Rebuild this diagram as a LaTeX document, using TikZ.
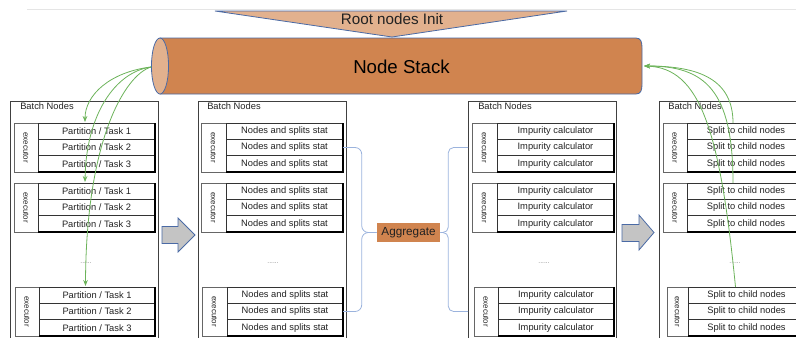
\documentclass[tikz,border=0pt]{standalone}
\usepackage{fontspec}
\usepackage{graphicx}
\setmainfont{Liberation Sans}
\usetikzlibrary{calc,arrows.meta}

\definecolor{stackbody}{HTML}{D0844F}
\definecolor{stackend}{HTML}{E2B18E}
\definecolor{edgeblue}{HTML}{4A6AA5}
\definecolor{linkgreen}{HTML}{6CB35A}
\definecolor{linkblue}{HTML}{9BB3DD}
\definecolor{arrowgray}{HTML}{C4C4C4}
\definecolor{textdark}{HTML}{222222}

% one executor with its three task rows
% #1 name, #2 left x, #3 executor right x, #4 rows right x, #5 top y,
% #6 row text (may use \rownum, the row's number)
\newcommand\execblock[6]{%
  \node[execcell, minimum width={(#3-#2)*0.75pt}] (#1e) at (#2,#5) {\rotatebox{-90}{executor}};
  \foreach \i in {0,1,2}{
    \pgfmathtruncatemacro\rownum{\i+1}
    \node[rowcell, minimum width={(#4-#3)*0.75pt}] (#1r\i) at (#3,{#5+\i*49/3}) {#6};
  }
  \draw[rowedge] (#1r0.north east) -- (#1r2.south east) -- (#1r2.south west);
}

\begin{document}
\begin{tikzpicture}[x=0.75pt,y=-0.75pt,
  colbox/.style={draw=black!75, line width=0.6pt, anchor=north west, inner sep=0pt, outer sep=0pt,
    minimum width=111pt, minimum height=183pt},
  collabel/.style={anchor=west, inner sep=0pt, text=textdark, font=\fontsize{7}{7}\selectfont},
  execcell/.style={draw=black!60, line width=0.5pt, anchor=north west, inner sep=0pt, outer sep=0pt,
    minimum height=36.75pt, text=textdark, font=\fontsize{6}{6}\selectfont},
  rowcell/.style={draw=black!80, line width=0.5pt, anchor=north west, inner sep=0pt, outer sep=0pt,
    minimum height=12.25pt, text=textdark, font=\fontsize{7}{7}\selectfont},
  rowedge/.style={draw=black, line width=1.2pt},
  dotsstyle/.style={text=black!50, font=\fontsize{5}{5}\selectfont, inner sep=0pt},
  greenlink/.style={draw=linkgreen, line width=0.6pt, -{Stealth[length=4.5pt,width=3.5pt]}},
  bluelink/.style={draw=linkblue, line width=0.6pt},
  blockarrow/.style={fill=arrowgray, draw=edgeblue, line width=0.6pt, line join=miter},
  aggbox/.style={fill=stackbody, inner sep=0pt, minimum width=47.25pt, minimum height=14.25pt,
    text=textdark, font=\fontsize{8.8}{8.8}\selectfont}
]
\useasboundingbox (0,0) rectangle (796,337);
\clip (0,0) rectangle (796,337);

% faint rule along the top
\draw[black!10, line width=0.5pt] (27,9) -- (796,9);

% inverted triangle feeding the stack
\filldraw[fill=stackend, draw=edgeblue, line width=0.6pt] (215,11) -- (567,11) -- (392,37) -- cycle;
\node[font=\fontsize{11.4}{11.4}\selectfont, text=textdark] (root) at (392,19) {Root nodes Init};

% the node stack cylinder
\filldraw[fill=stackbody, draw=edgeblue, line width=0.6pt]
  (160,38) -- (636,38) .. controls (641,38) and (642,42) .. (642,48) -- (642,84)
  .. controls (642,90) and (641,94) .. (636,94) -- (160,94) -- cycle;
\filldraw[fill=stackend, draw=edgeblue, line width=0.6pt] (160,66) ellipse [x radius=6.4pt, y radius=21pt];
\node[font=\fontsize{14}{14}\selectfont, text=black] (stack) at (401.5,66.5) {Node Stack};
\coordinate (stackL) at (151,67);
\coordinate (stackR) at (644,66);

% batch node columns
\node[colbox] (col1) at (10,101) {};
\node[colbox] (col2) at (198,101) {};
\node[colbox] (col3) at (468,101) {};
\node[colbox] (col4) at (659,101) {};
\node[collabel] (col1lbl) at (20,106) {Batch Nodes};
\node[collabel] (col2lbl) at (207,106) {Batch Nodes};
\node[collabel] (col3lbl) at (478,106) {Batch Nodes};
\node[collabel] (col4lbl) at (668,106) {Batch Nodes};

% executors
\execblock{c1g1}{14}{38}{155}{123}{Partition / Task \rownum}
\execblock{c1g2}{14}{38}{155}{183}{Partition / Task \rownum}
\execblock{c1g3}{15}{39}{155}{287}{Partition / Task \rownum}

\execblock{c2g1}{201}{226}{343}{123}{Nodes and splits stat}
\execblock{c2g2}{201}{226}{343}{183}{Nodes and splits stat}
\execblock{c2g3}{202}{227}{343}{287}{Nodes and splits stat}

\execblock{c3g1}{472}{497}{614}{123}{Impurity calculator}
\execblock{c3g2}{472}{497}{614}{183}{Impurity calculator}
\execblock{c3g3}{474}{498}{614}{287}{Impurity calculator}

\execblock{c4g1}{663}{687}{805}{123}{Split to child nodes}
\execblock{c4g2}{663}{687}{805}{183}{Split to child nodes}
\execblock{c4g3}{667}{688}{805}{287}{Split to child nodes}

% elided executors
\node[dotsstyle] (col1dots) at (86,263) {......};
\node[dotsstyle] (col2dots) at (273,263) {......};
\node[dotsstyle] (col3dots) at (544,263) {......};
\node[dotsstyle] (col4dots) at (735,263) {......};

% stage arrows
\filldraw[blockarrow] (162,226.5) -- (178,226.5) -- (178,218) -- (195,235) -- (178,252)
  -- (178,243.5) -- (162,243.5) -- cycle;
\filldraw[blockarrow] (622,224.5) -- (639,224.5) -- (639,215) -- (654,232.5) -- (639,250)
  -- (639,241.5) -- (622,241.5) -- cycle;

% aggregation between statistics and impurity
\node[aggbox] (agg) at (408.5,232.5) {Aggregate};
\draw[bluelink, rounded corners=5pt] (c2g1r1.east) -| ($(agg.west)+(-15,0)$) -- (agg.west);
\draw[bluelink, rounded corners=5pt] (c2g3r1.east) -| ($(agg.west)+(-15,0)$) -- (agg.west);
\draw[bluelink, rounded corners=4pt] (agg.east) -- ($(agg.east)+(8,0)$) |- (col3.west |- c3g1r1.center);
\draw[bluelink, rounded corners=4pt] (agg.east) -- ($(agg.east)+(8,0)$) |- (col3.west |- c3g3r1.center);

% nodes popped from the stack
\draw[greenlink] (stackL) .. controls (110,72) and (85,95) .. ($(c1g1r0.north)+(-11.5,-1)$);
\draw[greenlink] (stackL) .. controls (115,72) and (86,115) .. ($(c1g2r0.north)+(-11.5,-1)$);
\draw[greenlink] (stackL) .. controls (125,75) and (86,140) .. ($(c1g3r0.north)+(-11.5,-1)$);

% child nodes pushed back
\draw[greenlink] ($(c4g1r0.north)+(-13,0)$) .. controls (733,80) and (700,66) .. (stackR);
\draw[greenlink] ($(c4g2r0.north)+(-13,0)$) .. controls (733,90) and (705,66) .. (stackR);
\draw[greenlink] ($(c4g3r0.north)+(-11,0)$) .. controls (720,130) and (700,68) .. (stackR);
\end{tikzpicture}
\end{document}
